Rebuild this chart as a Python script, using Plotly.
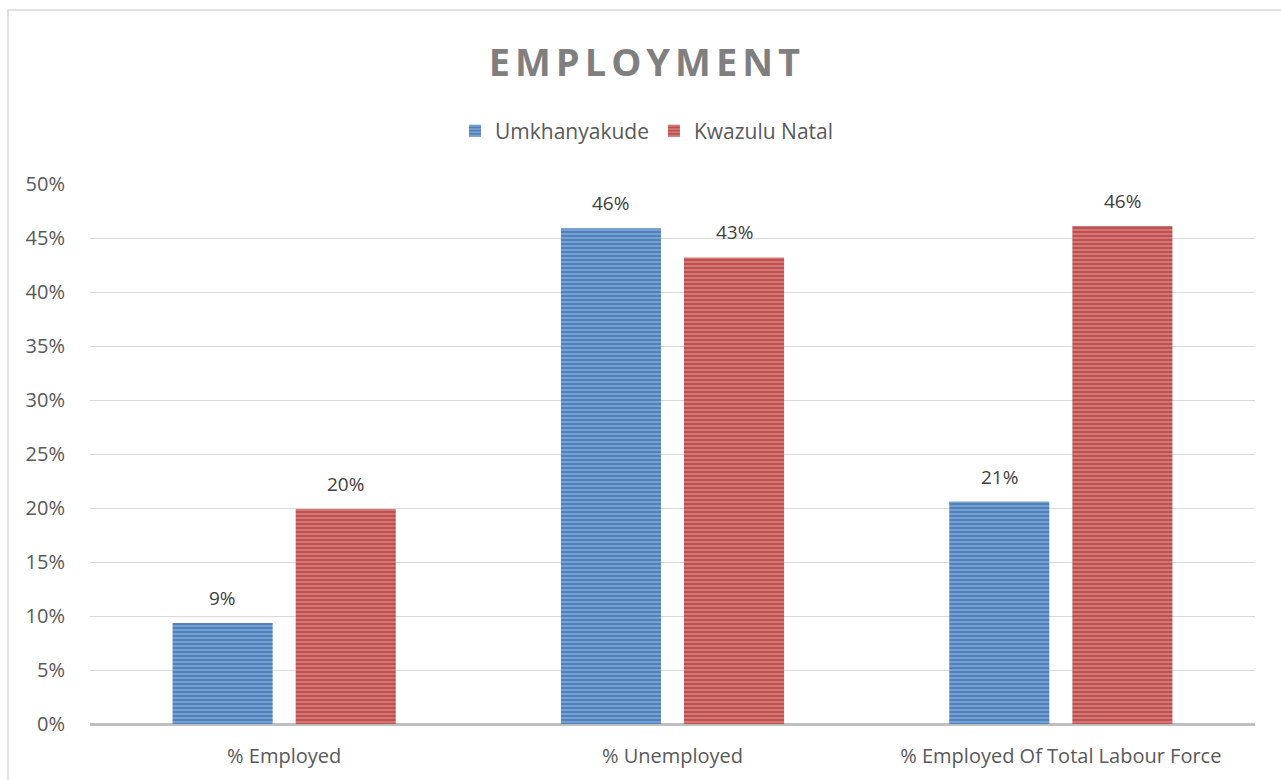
import plotly.graph_objects as go

categories = ["% Employed", "% Unemployed", "% Employed Of Total Labour Force"]
umkhanyakude = [9.35, 45.9, 20.6]
kwazulu_natal = [19.9, 43.2, 46.1]
series_names = ["Umkhanyakude", "Kwazulu Natal"]
tick_vals = [0, 5, 10, 15, 20, 25, 30, 35, 40, 45, 50]
tick_text = [f"{v}%" for v in tick_vals]

FONT = "Open Sans"
TXT = "#595959"

L, R, T, B = 90, 26, 184, 56
W, H = 1281, 780
pw, ph = W - L - R, H - T - B
BARGAP, GROUPGAP = 0.366, 0.187

fig = go.Figure()
styles = [("#4F81BD", "#A9C4E6"), ("#C0504D", "#E6A8A6")]
all_vals = [umkhanyakude, kwazulu_natal]
for name, vals, (bg, fg) in zip(series_names, all_vals, styles):
    fig.add_trace(go.Bar(
        name=name, x=categories, y=vals,
        marker=dict(color=bg, line=dict(width=0),
                    pattern=dict(shape="-", bgcolor=bg, fgcolor=fg, size=4,
                                 solidity=0.45, fillmode="overlay")),
    ))

# data labels above bars
slot = pw / len(categories) * (1 - BARGAP) / 2
for i, vals in enumerate(all_vals):
    shift = (i - 0.5) * slot
    for c, v in zip(categories, vals):
        fig.add_annotation(x=c, y=v, text=f"{round(v)}%", showarrow=False,
                           xshift=shift, yshift=25, yanchor="middle",
                           font=dict(family=FONT, size=19, color="#404040"))

fig.update_layout(
    width=W, height=H,
    margin=dict(l=L, r=R, t=T, b=B),
    paper_bgcolor="white", plot_bgcolor="white",
    barmode="group", bargap=BARGAP, bargroupgap=GROUPGAP,
    title=dict(text="<b>EMPLOYMENT</b>", x=0.505, xanchor="center",
               y=1 - 63 / H, yanchor="middle", yref="container",
               font=dict(family=FONT, size=38, color="#7F7F7F")),
    legend=dict(orientation="h", x=(647 - L) / pw, xanchor="center",
                y=(H - B - 131) / ph, yanchor="middle",
                font=dict(family=FONT, size=21, color=TXT),
                itemwidth=30, traceorder="normal"),
    xaxis=dict(tickfont=dict(family=FONT, size=20, color=TXT),
               showgrid=False, ticks="", ticklabelstandoff=18),
    yaxis=dict(range=[0, 50], tickvals=tick_vals, ticktext=tick_text,
               tickfont=dict(family=FONT, size=20, color=TXT),
               showgrid=True, gridcolor="#D9D9D9", gridwidth=1,
               zeroline=True, zerolinecolor="#BFBFBF", zerolinewidth=3,
               ticklabelstandoff=24, showline=False),
    shapes=[dict(type="rect", xref="paper", yref="paper",
                 x0=(8 - L) / pw, x1=(W + 5 - L) / pw,
                 y0=(H - B - (H + 5)) / ph, y1=(H - B - 10) / ph,
                 line=dict(color="#D9D9D9", width=1.5), layer="below")],
)

fig.write_html(
    "out.html",
    config={"displayModeBar": False},
    post_script=(
        "document.body.style.margin='0px';document.body.style.overflow='hidden';"
        "document.querySelectorAll('.gtitle').forEach(function(e){e.style.letterSpacing='5px';});"
    ),
)
